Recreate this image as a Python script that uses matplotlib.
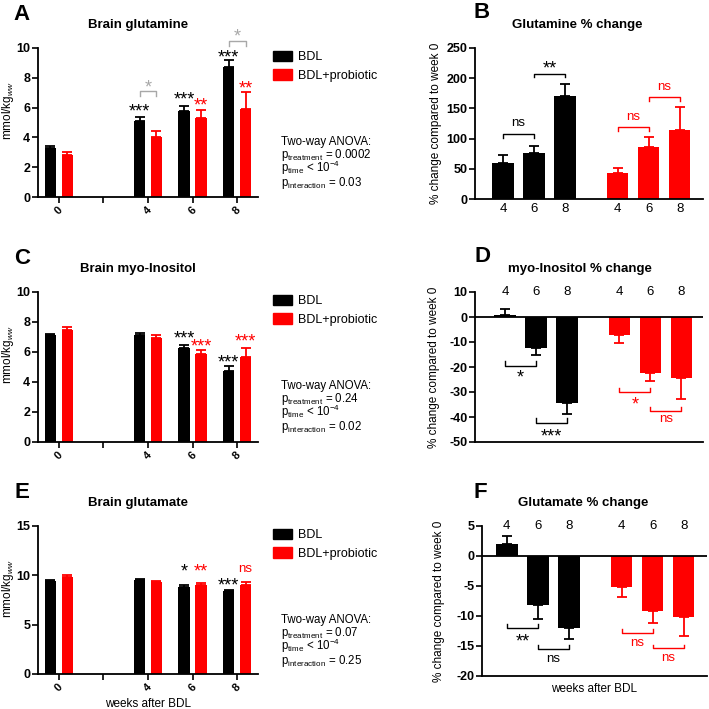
import numpy as np
import matplotlib.pyplot as plt
from matplotlib.patches import Patch
from matplotlib.transforms import offset_copy

plt.rcParams['font.family'] = ['Liberation Sans', 'DejaVu Sans']
plt.rcParams['mathtext.fontset'] = 'custom'
plt.rcParams['mathtext.rm'] = 'Liberation Sans'
plt.rcParams['mathtext.it'] = 'Liberation Sans:italic'
plt.rcParams['axes.unicode_minus'] = False

RED = '#ff0000'
GREY = '#a8a8a8'

# absolute values (mmol/kg ww), weeks 0, 4, 6, 8 -- slot 1 is an empty gap
abs_labels = ['0', '', '4', '6', '8']
abs_slots = [0, 2, 3, 4]

gln_bdl = [3.3, 5.1, 5.8, 8.7]
gln_bdl_err = [0.15, 0.3, 0.3, 0.5]
gln_pro = [2.85, 4.05, 5.3, 5.9]
gln_pro_err = [0.15, 0.35, 0.55, 1.15]

ins_bdl = [7.15, 7.15, 6.3, 4.75]
ins_bdl_err = [0.08, 0.15, 0.2, 0.3]
ins_pro = [7.5, 6.95, 5.85, 5.7]
ins_pro_err = [0.2, 0.2, 0.3, 0.6]

glu_bdl = [9.45, 9.55, 8.8, 8.4]
glu_bdl_err = [0.05, 0.1, 0.25, 0.1]
glu_pro = [9.85, 9.35, 9.0, 9.0]
glu_pro_err = [0.2, 0.1, 0.2, 0.35]

# % change compared to week 0, weeks 4, 6, 8
pct_labels = ['4', '6', '8']

gln_pct_bdl = [60, 76, 171]
gln_pct_bdl_err = [13, 11, 20]
gln_pct_pro = [43, 86, 114]
gln_pct_pro_err = [8, 16, 38]

ins_pct_bdl = [0.8, -12.3, -34.5]
ins_pct_bdl_err = [2.6, 3.0, 4.3]
ins_pct_pro = [-7.2, -22.4, -24.4]
ins_pct_pro_err = [3.0, 3.0, 8.5]

glu_pct_bdl = [2.0, -8.1, -12.0]
glu_pct_bdl_err = [1.3, 2.4, 1.9]
glu_pct_pro = [-5.1, -9.1, -10.1]
glu_pct_pro_err = [1.8, 2.0, 3.3]

anova_gln = ['0.0002', '< 10$^{-4}$', '0.03']
anova_ins = ['0.24', '< 10$^{-4}$', '0.02']
anova_glu = ['0.07', '< 10$^{-4}$', '0.25']

fig = plt.figure(figsize=(7.09, 7.09), dpi=100)


def rect(l, t, r, b):
    return [l / 709, 1 - b / 709, (r - l) / 709, (b - t) / 709]


def fxy(x, y):
    return x / 709, 1 - y / 709


def mark(ax, x, y, s, color='black', fs=13):
    # asterisks sit high in the font, shift them down to centre on y
    tr = ax.transData
    if '*' in s:
        tr = offset_copy(ax.transData, fig=fig, y=-0.3 * fs, units='points')
    ax.text(x, y, s, color=color, fontsize=fs if '*' in s else 9.5,
            ha='center', va='center', transform=tr, clip_on=False)


def bracket(ax, x1, x2, y, tip, label, ly, color='black'):
    ax.plot([x1, x1, x2, x2], [tip, y, y, tip], color=color, lw=1, clip_on=False)
    mark(ax, (x1 + x2) / 2, ly, label, color)


def style(ax):
    for s in ['top', 'right']:
        ax.spines[s].set_visible(False)
    for s in ['left', 'bottom']:
        ax.spines[s].set_linewidth(1.3)
    ax.tick_params(axis='y', length=4, width=1.2, labelsize=9, pad=1.5)
    for t in ax.get_yticklabels():
        t.set_fontweight('bold')


def abs_panel(top, bottom, bdl, bdl_err, pro, pro_err, ymax, ystep, title, letter, anova):
    ax = fig.add_axes(rect(38, top, 258, bottom))
    x = np.array(abs_slots, dtype=float)
    zero = np.zeros(len(x))
    kw = dict(capsize=3.5, elinewidth=1.3, capthick=1.3)
    ax.bar(x - 0.19, bdl, 0.26, color='black', yerr=[zero, bdl_err],
           error_kw=dict(ecolor='black', **kw))
    ax.bar(x + 0.19, pro, 0.26, color=RED, yerr=[zero, pro_err],
           error_kw=dict(ecolor=RED, **kw))
    ax.set_xlim(-0.47, 4.47)
    ax.set_ylim(0, ymax)
    ax.set_yticks(np.arange(0, ymax + 0.01, ystep))
    ax.set_xticks(range(len(abs_labels)), abs_labels, rotation=45,
                  fontsize=8, fontweight='bold')
    ax.tick_params(axis='x', length=4, width=1.2, pad=2)
    style(ax)
    ax.set_ylabel(r'mmol/kg$_{\mathit{ww}}$', fontsize=8.5)
    ax.yaxis.set_label_coords(-0.102, 0.58)
    fig.text(*fxy(138, top - 23), title, fontsize=9.5, fontweight='bold',
             ha='center', va='center')
    fig.text(*fxy(22, top - 34), letter, fontsize=16, fontweight='bold',
             ha='center', va='center')
    ax.legend([Patch(color='black'), Patch(color=RED)], ['BDL', 'BDL+probiotic'],
              loc='upper left', bbox_to_anchor=fxy(273, top + 3),
              bbox_transform=fig.transFigure, frameon=False, fontsize=9,
              handlelength=1.5, handleheight=0.9, handletextpad=0.5,
              labelspacing=0.45, borderpad=0, borderaxespad=0)
    lines = ['Two-way ANOVA:',
             r'p$_{\mathrm{treatment}}$ = ' + anova[0],
             r'p$_{\mathrm{time}}$ ' + anova[1],
             r'p$_{\mathrm{interaction}}$ = ' + anova[2]]
    for s, dy in zip(lines, [97, 110, 124, 138]):
        fig.text(*fxy(281, top + dy), s, fontsize=8.3, ha='left', va='baseline')
    return ax


def pct_panel(l, top, r, bottom, xlim, bdl, bdl_err, pro, pro_err, ylim, ystep,
              title, title_x, letter, letter_xy, label_x, labels_on_top):
    ax = fig.add_axes(rect(l, top, r, bottom))
    xb = np.arange(3)
    xr = np.arange(3) + 3.7
    kw = dict(capsize=3.5, elinewidth=1.3, capthick=1.3)
    for xs, v, e, c in [(xb, bdl, bdl_err, 'black'), (xr, pro, pro_err, RED)]:
        v = np.array(v)
        e = np.array(e)
        yerr = [np.where(v < 0, e, 0), np.where(v >= 0, e, 0)]
        ax.bar(xs, v, 0.69, color=c, yerr=yerr, error_kw=dict(ecolor=c, **kw))
    ax.set_xlim(*xlim)
    ax.set_ylim(*ylim)
    ax.set_yticks(np.arange(ylim[0], ylim[1] + 0.01, ystep))
    style(ax)
    if labels_on_top:
        ax.set_xticks([])
        ax.axhline(0, color='black', lw=1.3)
        for xs in (xb, xr):
            for xi, lab in zip(xs, pct_labels):
                ax.text(xi, ylim[1], lab, fontsize=9.5, ha='center', va='center')
    else:
        ax.set_xticks(list(xb) + list(xr), pct_labels * 2, fontsize=9.5)
        ax.tick_params(axis='x', length=0, pad=3)
    ax.set_ylabel('% change compared to week 0', fontsize=8.5)
    ax.yaxis.set_label_coords(label_x, 0.5)
    fig.text(*fxy(title_x, top - 23), title, fontsize=9.5, fontweight='bold',
             ha='center', va='center')
    fig.text(*fxy(*letter_xy), letter, fontsize=16, fontweight='bold',
             ha='center', va='center')
    return ax, xb, xr


# A
axA = abs_panel(48, 197, gln_bdl, gln_bdl_err, gln_pro, gln_pro_err, 10, 2,
                'Brain glutamine', 'A', anova_gln)
mark(axA, 2 - 0.19, 6.05, '***')
mark(axA, 3 - 0.19, 6.85, '***')
mark(axA, 4 - 0.19, 9.7, '***')
mark(axA, 3 + 0.19, 6.45, '**', RED)
mark(axA, 4 + 0.19, 7.6, '**', RED)
bracket(axA, 2 - 0.19, 2 + 0.19, 7.1, 6.75, '*', 7.65, GREY)
bracket(axA, 4 - 0.19, 4 + 0.19, 10.5, 10.15, '*', 11.1, GREY)

# C
axC = abs_panel(292, 442, ins_bdl, ins_bdl_err, ins_pro, ins_pro_err, 10, 2,
                'Brain myo-Inositol', 'C', anova_ins)
mark(axC, 3 - 0.19, 7.2, '***')
mark(axC, 3 + 0.19, 6.7, '***', RED)
mark(axC, 4 - 0.19, 5.65, '***')
mark(axC, 4 + 0.19, 7.0, '***', RED)

# E
axE = abs_panel(526, 674, glu_bdl, glu_bdl_err, glu_pro, glu_pro_err, 15, 5,
                'Brain glutamate', 'E', anova_glu)
mark(axE, 3 - 0.19, 10.9, '*')
mark(axE, 3 + 0.19, 10.9, '**', RED)
mark(axE, 4 - 0.19, 9.5, '***')
mark(axE, 4 + 0.19, 10.6, 'ns', RED)
axE.set_xlabel('weeks after BDL', fontsize=8.5)
axE.xaxis.set_label_coords(0.5, -0.165)

# B
axB, xb, xr = pct_panel(475, 48, 703, 199, (-0.9, 6.45), gln_pct_bdl, gln_pct_bdl_err,
                        gln_pct_pro, gln_pct_pro_err, (0, 250), 50,
                        'Glutamine % change', 577, 'B', (482, 12), -0.145, False)
bracket(axB, xb[0], xb[1], 107.5, 101, 'ns', 125)
bracket(axB, xb[1], xb[2], 207.5, 202, '**', 224)
bracket(axB, xr[0], xr[1], 119, 112, 'ns', 136, RED)
bracket(axB, xr[1], xr[2], 169, 162, 'ns', 185, RED)

# D
axD, xb, xr = pct_panel(475, 292, 703, 442, (-0.97, 6.4), ins_pct_bdl, ins_pct_bdl_err,
                        ins_pct_pro, ins_pct_pro_err, (-50, 10), 10,
                        'myo-Inositol % change', 580, 'D', (482, 257), -0.153, True)
bracket(axD, xb[0], xb[1], -19.5, -17.6, '*', -22.4)
bracket(axD, xb[1], xb[2], -42.3, -40.5, '***', -46)
bracket(axD, xr[0], xr[1], -30, -28.5, '*', -33, RED)
bracket(axD, xr[1], xr[2], -37.6, -35.8, 'ns', -41, RED)

# F
axF, xb, xr = pct_panel(482, 526, 707, 676, (-0.8, 6.45), glu_pct_bdl, glu_pct_bdl_err,
                        glu_pct_pro, glu_pct_pro_err, (-20, 5), 5,
                        'Glutamate % change', 583, 'F', (480, 492), -0.164, True)
bracket(axF, xb[0], xb[1], -12.0, -11.4, '**', -13.5)
bracket(axF, xb[1], xb[2], -15.5, -14.9, 'ns', -17.1)
bracket(axF, xr[0], xr[1], -12.8, -12.2, 'ns', -14.5, RED)
bracket(axF, xr[1], xr[2], -15.4, -14.8, 'ns', -17.0, RED)
axF.set_xlabel('weeks after BDL', fontsize=8.5)
axF.xaxis.set_label_coords(0.5, -0.05)

fig.savefig('out.png', dpi=100)
